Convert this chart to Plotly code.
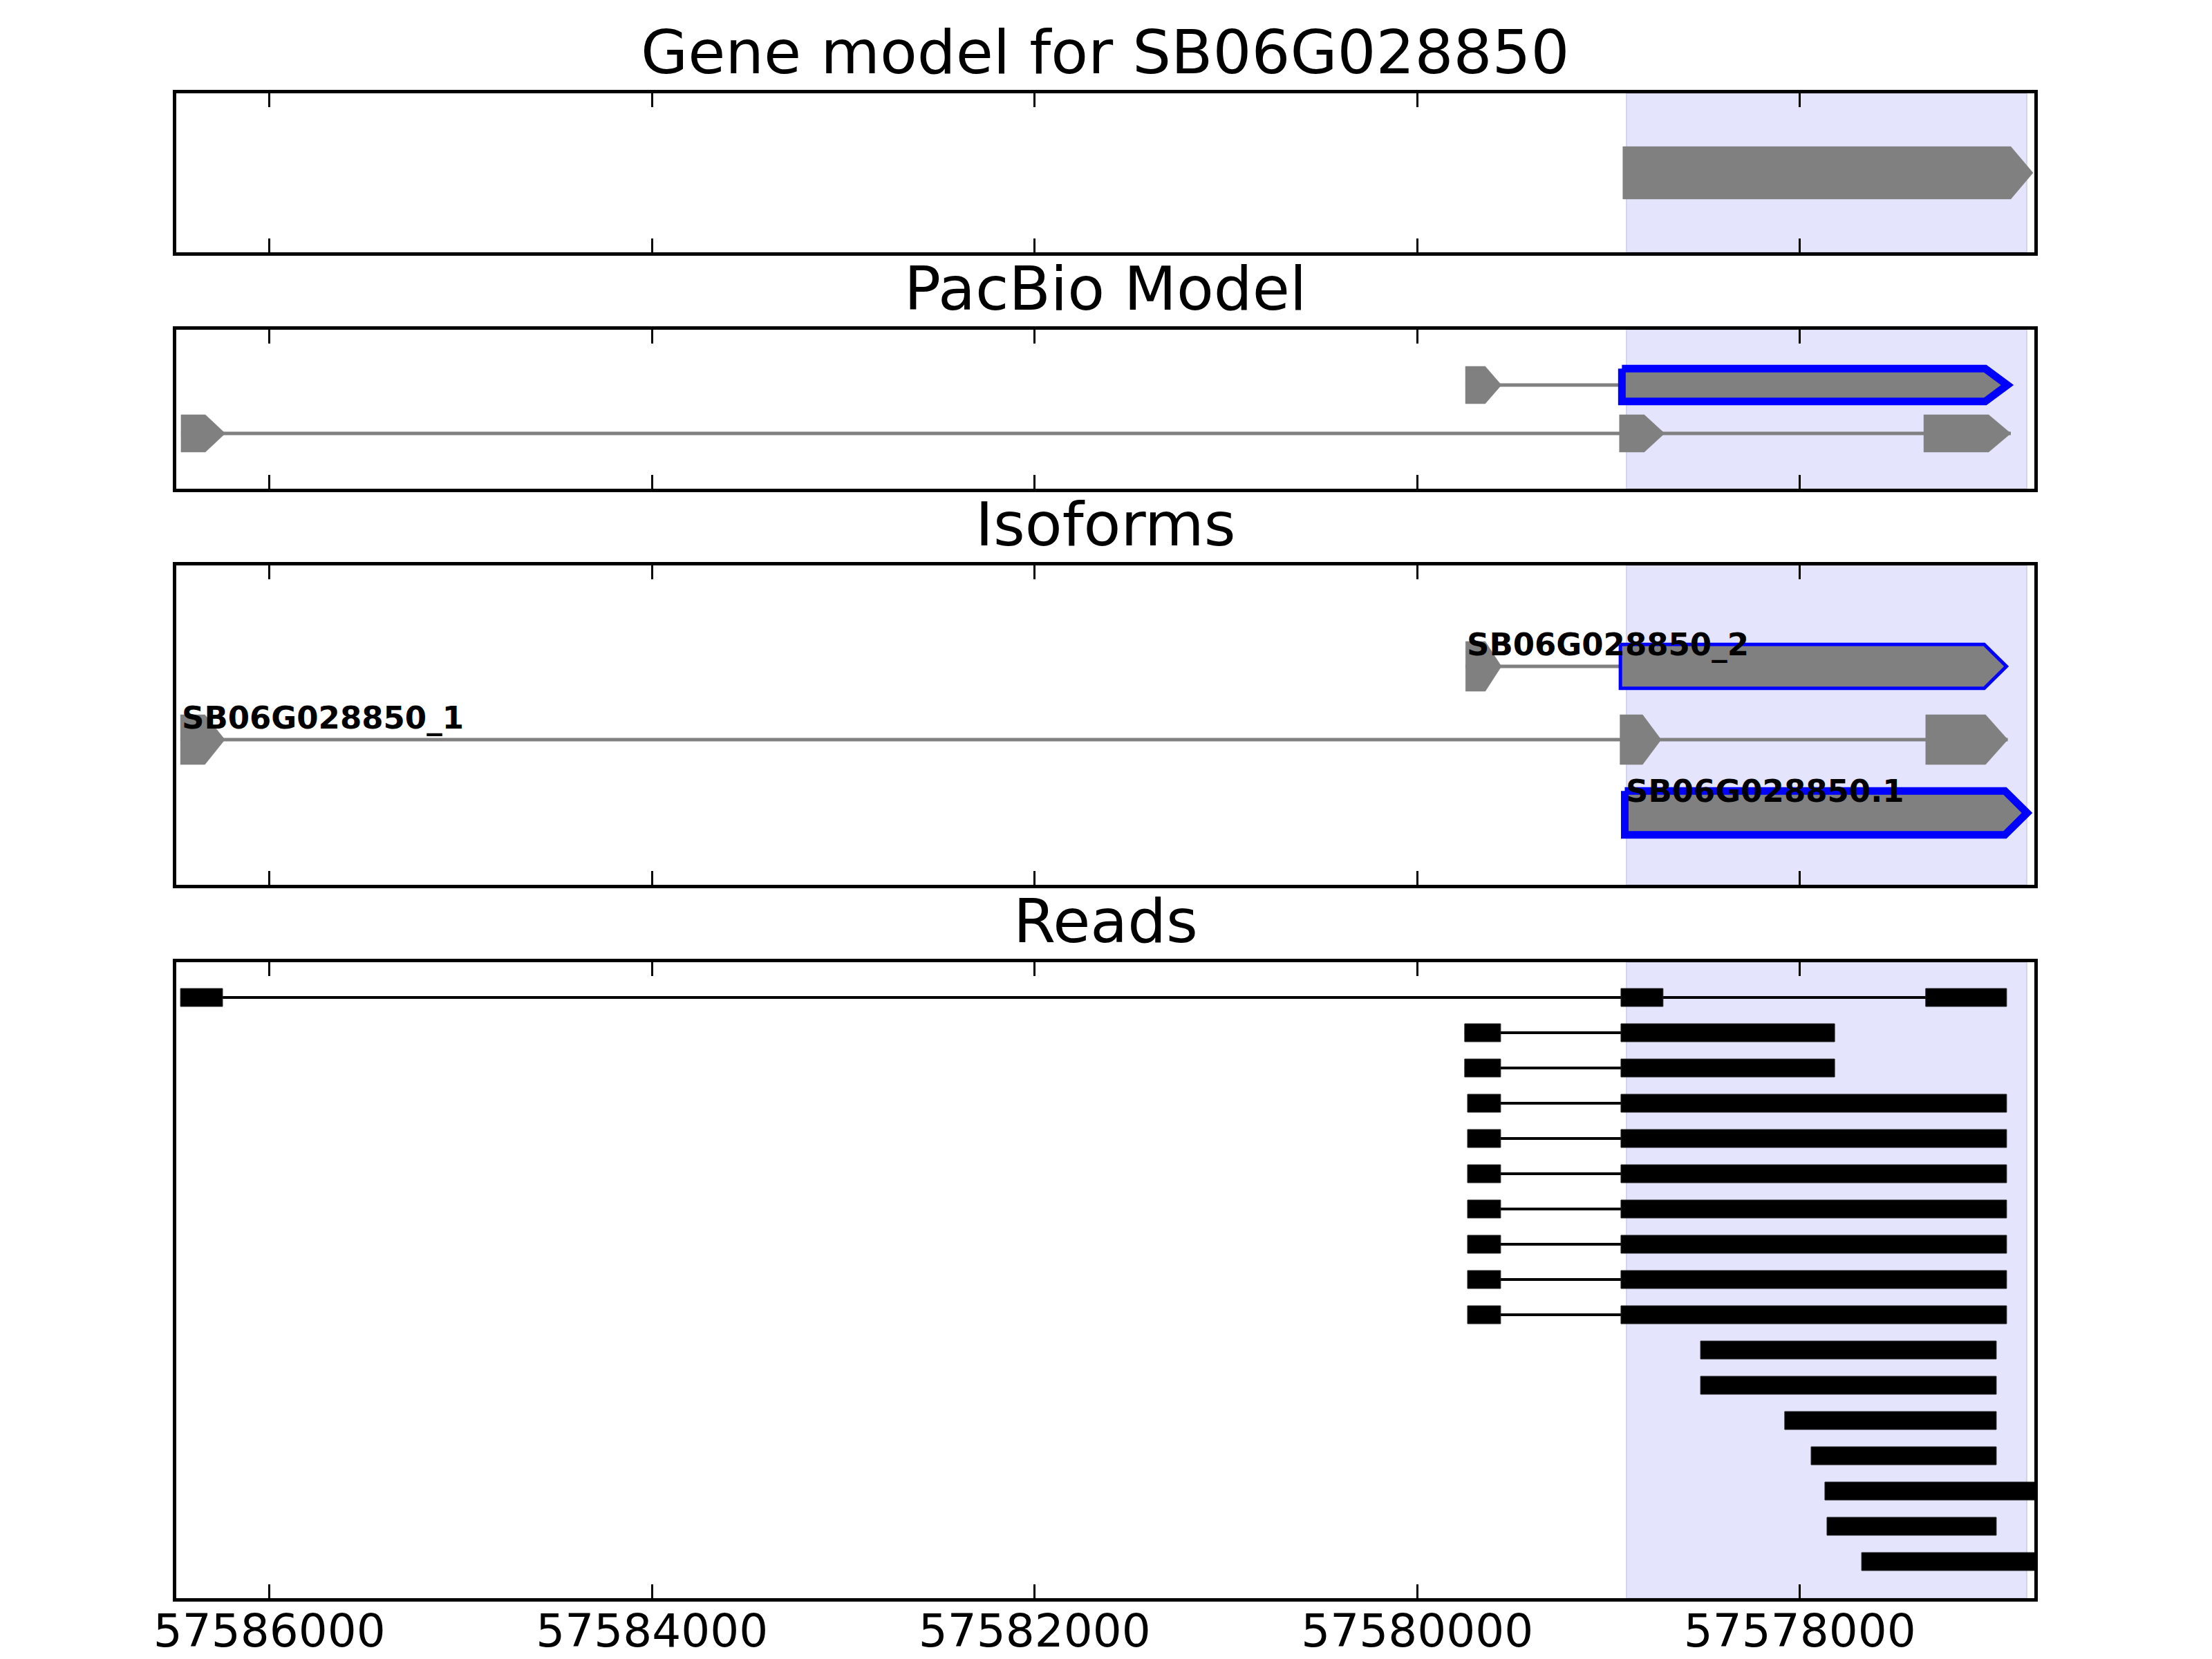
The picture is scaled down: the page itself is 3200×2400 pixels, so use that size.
import plotly.graph_objects as go

# ---------------- data ----------------
X_LEFT = 57586487
X_RIGHT = 57576774
TICK_VALUES = [57586000, 57584000, 57582000, 57580000, 57578000]
TICK_LABELS = ["57586000", "57584000", "57582000", "57580000", "57578000"]
HIGHLIGHT_SPAN = (57578906, 57576814)

PANEL_TITLES = ["Gene model for SB06G028850", "PacBio Model", "Isoforms", "Reads"]

GENE_MODEL_EXONS = [(57578925, 57576781)]

PACBIO_ROWS = [2, 1]
PACBIO_EXONS = [
    [(57579748, 57579560), (57578930, 57576915)],
    [(57586462, 57586231), (57578943, 57578707), (57577352, 57576897)],
]
PACBIO_MARK = [["", "thick"], ["", "", ""]]

ISOFORM_NAMES = ["SB06G028850_2", "SB06G028850_1", "SB06G028850.1"]
ISOFORM_ROWS = [3, 2, 1]
ISOFORM_EXONS = [
    [(57579747, 57579560), (57578938, 57576920)],
    [(57586465, 57586233), (57578940, 57578725), (57577342, 57576913)],
    [(57578915, 57576812)],
]
ISOFORM_MARK = [["", "thin"], ["", "", ""], ["thick"]]

READS = [
    [(57586465, 57586245), (57578935, 57578715), (57577342, 57576919)],
    [(57579752, 57579564), (57578935, 57577818)],
    [(57579752, 57579564), (57578935, 57577818)],
    [(57579737, 57579564), (57578935, 57576919)],
    [(57579737, 57579564), (57578935, 57576919)],
    [(57579737, 57579564), (57578935, 57576919)],
    [(57579737, 57579564), (57578935, 57576919)],
    [(57579737, 57579564), (57578935, 57576919)],
    [(57579737, 57579564), (57578935, 57576919)],
    [(57579737, 57579564), (57578935, 57576919)],
    [(57578519, 57576973)],
    [(57578519, 57576973)],
    [(57578079, 57576973)],
    [(57577941, 57576973)],
    [(57577869, 57576500)],
    [(57577858, 57576973)],
    [(57577677, 57576500)],
]

# ---------------- style / layout ----------------
FONT = "DejaVu Sans"
GRAY = "#808080"
BLUE = "#0000FF"
OUTLINE_W = {"thin": 5, "thick": 11}
OFF = 8  # default page body margin in the html page
W, H = 3200 - OFF, 2400 - OFF

PANEL_PX = [(135, 365), (477, 707), (818, 1280), (1392, 2312)]
PLOT_TOP = PANEL_PX[0][0] - OFF
PLOT_BOT = PANEL_PX[3][1] - OFF
M_L, M_R = 255 - OFF, 257
M_T, M_B = PLOT_TOP, H - PLOT_BOT
PLOT_H = PLOT_BOT - PLOT_TOP
DOMAINS = [[(PLOT_BOT - (b - OFF)) / PLOT_H, (PLOT_BOT - (t - OFF)) / PLOT_H] for t, b in PANEL_PX]
DOMAINS[0][1] = 1.0
DOMAINS[3][0] = 0.0
Y_RANGES = [[0, 2], [-0.143, 3.143], [0.019, 4.377], [-0.039, 18.0]]

fig = go.Figure()


def ax(i):
    return ("x" if i == 1 else f"x{i}"), ("y" if i == 1 else f"y{i}")


def arrow_poly(s, e, y, h):
    length = s - e
    head = min(0.45 * length, 116)
    hs = e + head
    return [s, hs, e, hs, s, s], [y + h, y + h, y, y - h, y - h, y + h]


def add_transcript(panel, exons, y, marks, h_gray, h_mark):
    xa, ya = ax(panel)
    if len(exons) > 1:
        fig.add_trace(go.Scatter(x=[exons[0][0], exons[-1][1]], y=[y, y], mode="lines",
                                 line=dict(color=GRAY, width=5), xaxis=xa, yaxis=ya,
                                 hoverinfo="skip", showlegend=False))
    for (s, e), m in zip(exons, marks):
        hh = h_mark if m else h_gray
        xs, ys = arrow_poly(s, e, y, hh)
        fig.add_trace(go.Scatter(
            x=xs, y=ys, mode="lines", fill="toself", fillcolor=GRAY,
            line=dict(color=BLUE if m else GRAY, width=OUTLINE_W[m] if m else 0.5),
            xaxis=xa, yaxis=ya, hoverinfo="skip", showlegend=False))


# panel 1: gene model
for s, e in GENE_MODEL_EXONS:
    xs, ys = arrow_poly(s, e, 1, 0.33)
    fig.add_trace(go.Scatter(x=xs, y=ys, mode="lines", fill="toself", fillcolor=GRAY,
                             line=dict(color=GRAY, width=0.5), xaxis="x", yaxis="y",
                             hoverinfo="skip", showlegend=False))

# panel 2: PacBio
for exons, y, marks in zip(PACBIO_EXONS, PACBIO_ROWS, PACBIO_MARK):
    add_transcript(2, exons, y, marks, 0.386, 0.34)

# panel 3: isoforms
for name, exons, y, marks in zip(ISOFORM_NAMES, ISOFORM_EXONS, ISOFORM_ROWS, ISOFORM_MARK):
    add_transcript(3, exons, y, marks, 0.34, 0.30)
    fig.add_annotation(x=exons[0][0], y=y, xref="x3", yref="y3", text=name,
                       showarrow=False, xanchor="left", yanchor="bottom", yshift=3,
                       font=dict(family=FONT, size=45, color="black", weight="bold"))

# panel 4: reads
n = len(READS)
lx, ly, bx, by = [], [], [], []
for k, blocks in enumerate(READS):
    y = n - k
    if len(blocks) > 1:
        lx += [blocks[0][0], blocks[-1][1], None]
        ly += [y, y, None]
    for s, e in blocks:
        bx += [s, e, e, s, s, None]
        by += [y + 0.255, y + 0.255, y - 0.255, y - 0.255, y + 0.255, None]
fig.add_trace(go.Scatter(x=lx, y=ly, mode="lines", line=dict(color="black", width=4),
                         xaxis="x4", yaxis="y4", hoverinfo="skip", showlegend=False))
fig.add_trace(go.Scatter(x=bx, y=by, mode="lines", fill="toself", fillcolor="black",
                         line=dict(color="#222222", width=1), xaxis="x4", yaxis="y4",
                         hoverinfo="skip", showlegend=False))

layout = dict(
    width=W, height=H, paper_bgcolor="white", plot_bgcolor="white",
    margin=dict(l=M_L, r=M_R, t=M_T, b=M_B, autoexpand=False), showlegend=False,
    font=dict(family=FONT, color="black"),
)
for i in range(1, 5):
    xa, ya = ax(i)
    xkey = "xaxis" if i == 1 else f"xaxis{i}"
    ykey = "yaxis" if i == 1 else f"yaxis{i}"
    layout[xkey] = dict(
        domain=[0, 1], anchor=ya, range=[X_LEFT, X_RIGHT], automargin=False,
        tickmode="array", tickvals=TICK_VALUES, ticktext=TICK_LABELS,
        showticklabels=(i == 4), ticks="inside", ticklen=20, tickwidth=3, tickcolor="black",
        ticklabelstandoff=-14,
        showline=True, linewidth=5, linecolor="black", mirror="ticks",
        showgrid=False, zeroline=False, tickfont=dict(family=FONT, size=66, color="black"),
    )
    layout[ykey] = dict(
        domain=DOMAINS[i - 1], anchor=xa, range=Y_RANGES[i - 1], automargin=False,
        showticklabels=False, ticks="", showline=True, linewidth=5, linecolor="black",
        mirror=True, showgrid=False, zeroline=False,
    )
fig.update_layout(**layout)

for i in range(1, 5):
    xa, ya = ax(i)
    fig.add_shape(type="rect", xref=xa, yref=f"{ya} domain",
                  x0=HIGHLIGHT_SPAN[0], x1=HIGHLIGHT_SPAN[1], y0=0, y1=1,
                  fillcolor="#E4E4FC", line=dict(color="#D4D4EA", width=2), layer="below")
    fig.add_annotation(x=0.5, y=DOMAINS[i - 1][1], xref="paper", yref="paper",
                       text=PANEL_TITLES[i - 1], showarrow=False, xanchor="center",
                       yanchor="bottom", yshift=6,
                       font=dict(family=FONT, size=88, color="black"))

fig.write_html("out.html")
